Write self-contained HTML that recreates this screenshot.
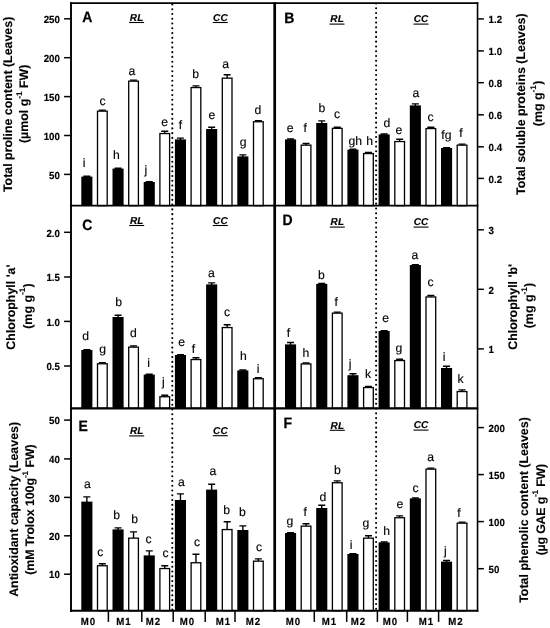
<!DOCTYPE html>
<html lang="en">
<head>
<meta charset="utf-8">
<title>Figure</title>
<style>
html,body{margin:0;padding:0;background:#fff;}
body{width:550px;height:628px;overflow:hidden;font-family:"Liberation Sans", sans-serif;}
svg{display:block;}
</style>
</head>
<body>
<svg width="550" height="628" viewBox="0 0 550 628" font-family='"Liberation Sans", sans-serif' text-rendering="geometricPrecision">
<rect width="550" height="628" fill="#fff"/>
<g id="panel-A">
<path d="M86.85 177.10V176.25M83.35 176.25H90.35" stroke="#000" stroke-width="1.4" fill="none"/>
<rect x="81.30" y="176.60" width="11.1" height="29.05" fill="#000"/>
<path d="M102.35 111.00V110.15M98.85 110.15H105.85" stroke="#000" stroke-width="1.4" fill="none"/>
<rect x="97.50" y="111.15" width="9.70" height="94.50" fill="#fff" stroke="#000" stroke-width="1.3"/>
<path d="M118.05 169.10V168.25M114.55 168.25H121.55" stroke="#000" stroke-width="1.4" fill="none"/>
<rect x="112.50" y="168.60" width="11.1" height="37.05" fill="#000"/>
<path d="M133.55 81.00V80.15M130.05 80.15H137.05" stroke="#000" stroke-width="1.4" fill="none"/>
<rect x="128.70" y="81.15" width="9.70" height="124.50" fill="#fff" stroke="#000" stroke-width="1.3"/>
<path d="M149.25 182.50V181.65M145.75 181.65H152.75" stroke="#000" stroke-width="1.4" fill="none"/>
<rect x="143.70" y="182.00" width="11.1" height="23.65" fill="#000"/>
<path d="M164.75 133.40V131.30M161.25 131.30H168.25" stroke="#000" stroke-width="1.4" fill="none"/>
<rect x="159.90" y="133.55" width="9.70" height="72.10" fill="#fff" stroke="#000" stroke-width="1.3"/>
<path d="M180.45 139.90V138.10M176.95 138.10H183.95" stroke="#000" stroke-width="1.4" fill="none"/>
<rect x="174.90" y="139.40" width="11.1" height="66.25" fill="#000"/>
<path d="M195.95 87.40V85.90M192.45 85.90H199.45" stroke="#000" stroke-width="1.4" fill="none"/>
<rect x="191.10" y="87.55" width="9.70" height="118.10" fill="#fff" stroke="#000" stroke-width="1.3"/>
<path d="M211.65 129.50V127.30M208.15 127.30H215.15" stroke="#000" stroke-width="1.4" fill="none"/>
<rect x="206.10" y="129.00" width="11.1" height="76.65" fill="#000"/>
<path d="M227.15 78.00V74.70M223.65 74.70H230.65" stroke="#000" stroke-width="1.4" fill="none"/>
<rect x="222.30" y="78.15" width="9.70" height="127.50" fill="#fff" stroke="#000" stroke-width="1.3"/>
<path d="M242.85 156.90V154.90M239.35 154.90H246.35" stroke="#000" stroke-width="1.4" fill="none"/>
<rect x="237.30" y="156.40" width="11.1" height="49.25" fill="#000"/>
<path d="M258.35 121.60V120.75M254.85 120.75H261.85" stroke="#000" stroke-width="1.4" fill="none"/>
<rect x="253.50" y="121.75" width="9.70" height="83.90" fill="#fff" stroke="#000" stroke-width="1.3"/>
</g>
<g id="panel-B">
<path d="M290.55 139.90V139.05M287.05 139.05H294.05" stroke="#000" stroke-width="1.4" fill="none"/>
<rect x="285.00" y="139.40" width="11.1" height="66.25" fill="#000"/>
<path d="M306.05 145.00V143.50M302.55 143.50H309.55" stroke="#000" stroke-width="1.4" fill="none"/>
<rect x="301.20" y="145.15" width="9.70" height="60.50" fill="#fff" stroke="#000" stroke-width="1.3"/>
<path d="M321.75 123.50V120.90M318.25 120.90H325.25" stroke="#000" stroke-width="1.4" fill="none"/>
<rect x="316.20" y="123.00" width="11.1" height="82.65" fill="#000"/>
<path d="M337.25 128.20V127.30M333.75 127.30H340.75" stroke="#000" stroke-width="1.4" fill="none"/>
<rect x="332.40" y="128.35" width="9.70" height="77.30" fill="#fff" stroke="#000" stroke-width="1.3"/>
<path d="M352.95 150.10V149.25M349.45 149.25H356.45" stroke="#000" stroke-width="1.4" fill="none"/>
<rect x="347.40" y="149.60" width="11.1" height="56.05" fill="#000"/>
<path d="M368.45 153.40V152.55M364.95 152.55H371.95" stroke="#000" stroke-width="1.4" fill="none"/>
<rect x="363.60" y="153.55" width="9.70" height="52.10" fill="#fff" stroke="#000" stroke-width="1.3"/>
<path d="M384.15 134.90V134.05M380.65 134.05H387.65" stroke="#000" stroke-width="1.4" fill="none"/>
<rect x="378.60" y="134.40" width="11.1" height="71.25" fill="#000"/>
<path d="M399.65 141.40V139.30M396.15 139.30H403.15" stroke="#000" stroke-width="1.4" fill="none"/>
<rect x="394.80" y="141.55" width="9.70" height="64.10" fill="#fff" stroke="#000" stroke-width="1.3"/>
<path d="M415.35 105.90V103.90M411.85 103.90H418.85" stroke="#000" stroke-width="1.4" fill="none"/>
<rect x="409.80" y="105.40" width="11.1" height="100.25" fill="#000"/>
<path d="M430.85 128.40V127.30M427.35 127.30H434.35" stroke="#000" stroke-width="1.4" fill="none"/>
<rect x="426.00" y="128.55" width="9.70" height="77.10" fill="#fff" stroke="#000" stroke-width="1.3"/>
<path d="M446.55 148.50V147.65M443.05 147.65H450.05" stroke="#000" stroke-width="1.4" fill="none"/>
<rect x="441.00" y="148.00" width="11.1" height="57.65" fill="#000"/>
<path d="M462.05 145.00V144.15M458.55 144.15H465.55" stroke="#000" stroke-width="1.4" fill="none"/>
<rect x="457.20" y="145.15" width="9.70" height="60.50" fill="#fff" stroke="#000" stroke-width="1.3"/>
</g>
<g id="panel-C">
<path d="M86.85 350.50V349.65M83.35 349.65H90.35" stroke="#000" stroke-width="1.4" fill="none"/>
<rect x="81.30" y="350.00" width="11.1" height="58.30" fill="#000"/>
<path d="M102.35 363.60V362.70M98.85 362.70H105.85" stroke="#000" stroke-width="1.4" fill="none"/>
<rect x="97.50" y="363.75" width="9.70" height="44.55" fill="#fff" stroke="#000" stroke-width="1.3"/>
<path d="M118.05 317.50V315.30M114.55 315.30H121.55" stroke="#000" stroke-width="1.4" fill="none"/>
<rect x="112.50" y="317.00" width="11.1" height="91.30" fill="#000"/>
<path d="M133.55 347.00V345.90M130.05 345.90H137.05" stroke="#000" stroke-width="1.4" fill="none"/>
<rect x="128.70" y="347.15" width="9.70" height="61.15" fill="#fff" stroke="#000" stroke-width="1.3"/>
<path d="M149.25 375.10V374.25M145.75 374.25H152.75" stroke="#000" stroke-width="1.4" fill="none"/>
<rect x="143.70" y="374.60" width="11.1" height="33.70" fill="#000"/>
<path d="M164.75 396.60V395.30M161.25 395.30H168.25" stroke="#000" stroke-width="1.4" fill="none"/>
<rect x="159.90" y="396.75" width="9.70" height="11.55" fill="#fff" stroke="#000" stroke-width="1.3"/>
<path d="M180.45 355.50V354.65M176.95 354.65H183.95" stroke="#000" stroke-width="1.4" fill="none"/>
<rect x="174.90" y="355.00" width="11.1" height="53.30" fill="#000"/>
<path d="M195.95 359.40V357.70M192.45 357.70H199.45" stroke="#000" stroke-width="1.4" fill="none"/>
<rect x="191.10" y="359.55" width="9.70" height="48.75" fill="#fff" stroke="#000" stroke-width="1.3"/>
<path d="M211.65 284.90V282.90M208.15 282.90H215.15" stroke="#000" stroke-width="1.4" fill="none"/>
<rect x="206.10" y="284.40" width="11.1" height="123.90" fill="#000"/>
<path d="M227.15 327.40V324.70M223.65 324.70H230.65" stroke="#000" stroke-width="1.4" fill="none"/>
<rect x="222.30" y="327.55" width="9.70" height="80.75" fill="#fff" stroke="#000" stroke-width="1.3"/>
<path d="M242.85 370.90V370.05M239.35 370.05H246.35" stroke="#000" stroke-width="1.4" fill="none"/>
<rect x="237.30" y="370.40" width="11.1" height="37.90" fill="#000"/>
<path d="M258.35 378.60V377.75M254.85 377.75H261.85" stroke="#000" stroke-width="1.4" fill="none"/>
<rect x="253.50" y="378.75" width="9.70" height="29.55" fill="#fff" stroke="#000" stroke-width="1.3"/>
</g>
<g id="panel-D">
<path d="M290.55 344.90V342.50M287.05 342.50H294.05" stroke="#000" stroke-width="1.4" fill="none"/>
<rect x="285.00" y="344.40" width="11.1" height="63.90" fill="#000"/>
<path d="M306.05 363.80V362.95M302.55 362.95H309.55" stroke="#000" stroke-width="1.4" fill="none"/>
<rect x="301.20" y="363.95" width="9.70" height="44.35" fill="#fff" stroke="#000" stroke-width="1.3"/>
<path d="M321.75 284.40V283.55M318.25 283.55H325.25" stroke="#000" stroke-width="1.4" fill="none"/>
<rect x="316.20" y="283.90" width="11.1" height="124.40" fill="#000"/>
<path d="M337.25 313.00V312.15M333.75 312.15H340.75" stroke="#000" stroke-width="1.4" fill="none"/>
<rect x="332.40" y="313.15" width="9.70" height="95.15" fill="#fff" stroke="#000" stroke-width="1.3"/>
<path d="M352.95 375.70V373.70M349.45 373.70H356.45" stroke="#000" stroke-width="1.4" fill="none"/>
<rect x="347.40" y="375.20" width="11.1" height="33.10" fill="#000"/>
<path d="M368.45 387.40V386.55M364.95 386.55H371.95" stroke="#000" stroke-width="1.4" fill="none"/>
<rect x="363.60" y="387.55" width="9.70" height="20.75" fill="#fff" stroke="#000" stroke-width="1.3"/>
<path d="M384.15 331.50V330.65M380.65 330.65H387.65" stroke="#000" stroke-width="1.4" fill="none"/>
<rect x="378.60" y="331.00" width="11.1" height="77.30" fill="#000"/>
<path d="M399.65 360.40V359.30M396.15 359.30H403.15" stroke="#000" stroke-width="1.4" fill="none"/>
<rect x="394.80" y="360.55" width="9.70" height="47.75" fill="#fff" stroke="#000" stroke-width="1.3"/>
<path d="M415.35 265.50V264.65M411.85 264.65H418.85" stroke="#000" stroke-width="1.4" fill="none"/>
<rect x="409.80" y="265.00" width="11.1" height="143.30" fill="#000"/>
<path d="M430.85 296.80V295.50M427.35 295.50H434.35" stroke="#000" stroke-width="1.4" fill="none"/>
<rect x="426.00" y="296.95" width="9.70" height="111.35" fill="#fff" stroke="#000" stroke-width="1.3"/>
<path d="M446.55 368.50V366.30M443.05 366.30H450.05" stroke="#000" stroke-width="1.4" fill="none"/>
<rect x="441.00" y="368.00" width="11.1" height="40.30" fill="#000"/>
<path d="M462.05 391.40V389.90M458.55 389.90H465.55" stroke="#000" stroke-width="1.4" fill="none"/>
<rect x="457.20" y="391.55" width="9.70" height="16.75" fill="#fff" stroke="#000" stroke-width="1.3"/>
</g>
<g id="panel-E">
<path d="M86.85 502.10V496.90M83.35 496.90H90.35" stroke="#000" stroke-width="1.4" fill="none"/>
<rect x="81.30" y="501.60" width="11.1" height="109.10" fill="#000"/>
<path d="M102.35 565.60V563.70M98.85 563.70H105.85" stroke="#000" stroke-width="1.4" fill="none"/>
<rect x="97.50" y="565.75" width="9.70" height="44.95" fill="#fff" stroke="#000" stroke-width="1.3"/>
<path d="M118.05 529.90V527.90M114.55 527.90H121.55" stroke="#000" stroke-width="1.4" fill="none"/>
<rect x="112.50" y="529.40" width="11.1" height="81.30" fill="#000"/>
<path d="M133.55 538.00V531.90M130.05 531.90H137.05" stroke="#000" stroke-width="1.4" fill="none"/>
<rect x="128.70" y="538.15" width="9.70" height="72.55" fill="#fff" stroke="#000" stroke-width="1.3"/>
<path d="M149.25 555.90V550.90M145.75 550.90H152.75" stroke="#000" stroke-width="1.4" fill="none"/>
<rect x="143.70" y="555.40" width="11.1" height="55.30" fill="#000"/>
<path d="M164.75 568.40V565.70M161.25 565.70H168.25" stroke="#000" stroke-width="1.4" fill="none"/>
<rect x="159.90" y="568.55" width="9.70" height="42.15" fill="#fff" stroke="#000" stroke-width="1.3"/>
<path d="M180.45 500.50V493.90M176.95 493.90H183.95" stroke="#000" stroke-width="1.4" fill="none"/>
<rect x="174.90" y="500.00" width="11.1" height="110.70" fill="#000"/>
<path d="M195.95 562.60V554.30M192.45 554.30H199.45" stroke="#000" stroke-width="1.4" fill="none"/>
<rect x="191.10" y="562.75" width="9.70" height="47.95" fill="#fff" stroke="#000" stroke-width="1.3"/>
<path d="M211.65 490.10V484.30M208.15 484.30H215.15" stroke="#000" stroke-width="1.4" fill="none"/>
<rect x="206.10" y="489.60" width="11.1" height="121.10" fill="#000"/>
<path d="M227.15 529.40V521.70M223.65 521.70H230.65" stroke="#000" stroke-width="1.4" fill="none"/>
<rect x="222.30" y="529.55" width="9.70" height="81.15" fill="#fff" stroke="#000" stroke-width="1.3"/>
<path d="M242.85 530.50V525.90M239.35 525.90H246.35" stroke="#000" stroke-width="1.4" fill="none"/>
<rect x="237.30" y="530.00" width="11.1" height="80.70" fill="#000"/>
<path d="M258.35 561.00V558.90M254.85 558.90H261.85" stroke="#000" stroke-width="1.4" fill="none"/>
<rect x="253.50" y="561.15" width="9.70" height="49.55" fill="#fff" stroke="#000" stroke-width="1.3"/>
</g>
<g id="panel-F">
<path d="M290.55 533.50V532.65M287.05 532.65H294.05" stroke="#000" stroke-width="1.4" fill="none"/>
<rect x="285.00" y="533.00" width="11.1" height="77.70" fill="#000"/>
<path d="M306.05 526.00V523.70M302.55 523.70H309.55" stroke="#000" stroke-width="1.4" fill="none"/>
<rect x="301.20" y="526.15" width="9.70" height="84.55" fill="#fff" stroke="#000" stroke-width="1.3"/>
<path d="M321.75 508.50V505.30M318.25 505.30H325.25" stroke="#000" stroke-width="1.4" fill="none"/>
<rect x="316.20" y="508.00" width="11.1" height="102.70" fill="#000"/>
<path d="M337.25 482.60V480.90M333.75 480.90H340.75" stroke="#000" stroke-width="1.4" fill="none"/>
<rect x="332.40" y="482.75" width="9.70" height="127.95" fill="#fff" stroke="#000" stroke-width="1.3"/>
<path d="M352.95 554.50V553.65M349.45 553.65H356.45" stroke="#000" stroke-width="1.4" fill="none"/>
<rect x="347.40" y="554.00" width="11.1" height="56.70" fill="#000"/>
<path d="M368.45 538.00V535.70M364.95 535.70H371.95" stroke="#000" stroke-width="1.4" fill="none"/>
<rect x="363.60" y="538.15" width="9.70" height="72.55" fill="#fff" stroke="#000" stroke-width="1.3"/>
<path d="M384.15 542.90V542.05M380.65 542.05H387.65" stroke="#000" stroke-width="1.4" fill="none"/>
<rect x="378.60" y="542.40" width="11.1" height="68.30" fill="#000"/>
<path d="M399.65 517.60V515.90M396.15 515.90H403.15" stroke="#000" stroke-width="1.4" fill="none"/>
<rect x="394.80" y="517.75" width="9.70" height="92.95" fill="#fff" stroke="#000" stroke-width="1.3"/>
<path d="M415.35 498.90V498.05M411.85 498.05H418.85" stroke="#000" stroke-width="1.4" fill="none"/>
<rect x="409.80" y="498.40" width="11.1" height="112.30" fill="#000"/>
<path d="M430.85 469.00V468.15M427.35 468.15H434.35" stroke="#000" stroke-width="1.4" fill="none"/>
<rect x="426.00" y="469.15" width="9.70" height="141.55" fill="#fff" stroke="#000" stroke-width="1.3"/>
<path d="M446.55 562.10V560.50M443.05 560.50H450.05" stroke="#000" stroke-width="1.4" fill="none"/>
<rect x="441.00" y="561.60" width="11.1" height="49.10" fill="#000"/>
<path d="M462.05 523.00V522.15M458.55 522.15H465.55" stroke="#000" stroke-width="1.4" fill="none"/>
<rect x="457.20" y="523.15" width="9.70" height="87.55" fill="#fff" stroke="#000" stroke-width="1.3"/>
</g>
<line x1="172.3" y1="4.5" x2="172.3" y2="610.7" stroke="#000" stroke-width="2.1" stroke-linecap="round" stroke-dasharray="0 4.765"/>
<line x1="376.1" y1="3.54" x2="376.1" y2="610.7" stroke="#000" stroke-width="2.1" stroke-linecap="round" stroke-dasharray="0 4.765"/>
<line x1="71.0" y1="2.3" x2="71.0" y2="611.6500000000001" stroke="#000" stroke-width="1.9"/>
<line x1="274.7" y1="2.3" x2="274.7" y2="611.6500000000001" stroke="#000" stroke-width="2.7"/>
<line x1="477.55" y1="2.3" x2="477.55" y2="611.6500000000001" stroke="#000" stroke-width="1.6"/>
<line x1="70.05" y1="3.1" x2="478.35" y2="3.1" stroke="#000" stroke-width="1.6"/>
<line x1="70.05" y1="205.65" x2="478.35" y2="205.65" stroke="#000" stroke-width="1.7"/>
<line x1="70.05" y1="408.3" x2="478.35" y2="408.3" stroke="#000" stroke-width="2.2"/>
<line x1="70.05" y1="610.7" x2="478.35" y2="610.7" stroke="#000" stroke-width="1.9"/>
<g font-size="9.7" font-weight="bold" fill="#000" stroke="#000" stroke-width="0.15">
<line x1="64.1" y1="18.8" x2="71.0" y2="18.8" stroke="#000" stroke-width="1.5"/>
<text transform="translate(59.90 23.05) scale(1 1.06)" text-anchor="end">250</text>
<line x1="64.1" y1="57.7" x2="71.0" y2="57.7" stroke="#000" stroke-width="1.5"/>
<text transform="translate(59.90 61.95) scale(1 1.06)" text-anchor="end">200</text>
<line x1="64.1" y1="96.6" x2="71.0" y2="96.6" stroke="#000" stroke-width="1.5"/>
<text transform="translate(59.90 100.85) scale(1 1.06)" text-anchor="end">150</text>
<line x1="64.1" y1="135.5" x2="71.0" y2="135.5" stroke="#000" stroke-width="1.5"/>
<text transform="translate(59.90 139.75) scale(1 1.06)" text-anchor="end">100</text>
<line x1="64.1" y1="174.4" x2="71.0" y2="174.4" stroke="#000" stroke-width="1.5"/>
<text transform="translate(59.90 178.65) scale(1 1.06)" text-anchor="end">50</text>
<line x1="64.1" y1="232.3" x2="71.0" y2="232.3" stroke="#000" stroke-width="1.5"/>
<text transform="translate(59.90 236.55) scale(1 1.06)" text-anchor="end">2.0</text>
<line x1="64.1" y1="277.0" x2="71.0" y2="277.0" stroke="#000" stroke-width="1.5"/>
<text transform="translate(59.90 281.25) scale(1 1.06)" text-anchor="end">1.5</text>
<line x1="64.1" y1="321.4" x2="71.0" y2="321.4" stroke="#000" stroke-width="1.5"/>
<text transform="translate(59.90 325.65) scale(1 1.06)" text-anchor="end">1.0</text>
<line x1="64.1" y1="366.0" x2="71.0" y2="366.0" stroke="#000" stroke-width="1.5"/>
<text transform="translate(59.90 370.25) scale(1 1.06)" text-anchor="end">0.5</text>
<line x1="64.1" y1="420.1" x2="71.0" y2="420.1" stroke="#000" stroke-width="1.5"/>
<text transform="translate(59.90 424.35) scale(1 1.06)" text-anchor="end">50</text>
<line x1="64.1" y1="458.9" x2="71.0" y2="458.9" stroke="#000" stroke-width="1.5"/>
<text transform="translate(59.90 463.15) scale(1 1.06)" text-anchor="end">40</text>
<line x1="64.1" y1="497.4" x2="71.0" y2="497.4" stroke="#000" stroke-width="1.5"/>
<text transform="translate(59.90 501.65) scale(1 1.06)" text-anchor="end">30</text>
<line x1="64.1" y1="535.8" x2="71.0" y2="535.8" stroke="#000" stroke-width="1.5"/>
<text transform="translate(59.90 540.05) scale(1 1.06)" text-anchor="end">20</text>
<line x1="64.1" y1="574.2" x2="71.0" y2="574.2" stroke="#000" stroke-width="1.5"/>
<text transform="translate(59.90 578.45) scale(1 1.06)" text-anchor="end">10</text>
<line x1="477.55" y1="18.9" x2="483.85" y2="18.9" stroke="#000" stroke-width="1.5"/>
<text transform="translate(488.60 23.15) scale(1 1.06)">1.2</text>
<line x1="477.55" y1="50.9" x2="483.85" y2="50.9" stroke="#000" stroke-width="1.5"/>
<text transform="translate(488.60 55.15) scale(1 1.06)">1.0</text>
<line x1="477.55" y1="82.7" x2="483.85" y2="82.7" stroke="#000" stroke-width="1.5"/>
<text transform="translate(488.60 86.95) scale(1 1.06)">0.8</text>
<line x1="477.55" y1="114.8" x2="483.85" y2="114.8" stroke="#000" stroke-width="1.5"/>
<text transform="translate(488.60 119.05) scale(1 1.06)">0.6</text>
<line x1="477.55" y1="146.8" x2="483.85" y2="146.8" stroke="#000" stroke-width="1.5"/>
<text transform="translate(488.60 151.05) scale(1 1.06)">0.4</text>
<line x1="477.55" y1="178.4" x2="483.85" y2="178.4" stroke="#000" stroke-width="1.5"/>
<text transform="translate(488.60 182.65) scale(1 1.06)">0.2</text>
<line x1="477.55" y1="229.8" x2="483.85" y2="229.8" stroke="#000" stroke-width="1.5"/>
<text transform="translate(488.60 234.05) scale(1 1.06)">3</text>
<line x1="477.55" y1="289.3" x2="483.85" y2="289.3" stroke="#000" stroke-width="1.5"/>
<text transform="translate(488.60 293.55) scale(1 1.06)">2</text>
<line x1="477.55" y1="348.9" x2="483.85" y2="348.9" stroke="#000" stroke-width="1.5"/>
<text transform="translate(488.60 353.15) scale(1 1.06)">1</text>
<line x1="477.55" y1="427.6" x2="483.85" y2="427.6" stroke="#000" stroke-width="1.5"/>
<text transform="translate(488.60 431.85) scale(1 1.06)">200</text>
<line x1="477.55" y1="474.6" x2="483.85" y2="474.6" stroke="#000" stroke-width="1.5"/>
<text transform="translate(488.60 478.85) scale(1 1.06)">150</text>
<line x1="477.55" y1="521.6" x2="483.85" y2="521.6" stroke="#000" stroke-width="1.5"/>
<text transform="translate(488.60 525.85) scale(1 1.06)">100</text>
<line x1="477.55" y1="568.7" x2="483.85" y2="568.7" stroke="#000" stroke-width="1.5"/>
<text transform="translate(488.60 572.95) scale(1 1.06)">50</text>
</g>
<line x1="108.4" y1="610.7" x2="108.4" y2="621.9" stroke="#000" stroke-width="1.5"/>
<line x1="141.8" y1="610.7" x2="141.8" y2="621.9" stroke="#000" stroke-width="1.5"/>
<line x1="173.2" y1="610.7" x2="173.2" y2="621.9" stroke="#000" stroke-width="1.5"/>
<line x1="205.2" y1="610.7" x2="205.2" y2="621.9" stroke="#000" stroke-width="1.5"/>
<line x1="235.0" y1="610.7" x2="235.0" y2="621.9" stroke="#000" stroke-width="1.5"/>
<line x1="314.3" y1="610.7" x2="314.3" y2="621.9" stroke="#000" stroke-width="1.5"/>
<line x1="346.7" y1="610.7" x2="346.7" y2="621.9" stroke="#000" stroke-width="1.5"/>
<line x1="377.4" y1="610.7" x2="377.4" y2="621.9" stroke="#000" stroke-width="1.5"/>
<line x1="407.4" y1="610.7" x2="407.4" y2="621.9" stroke="#000" stroke-width="1.5"/>
<line x1="438.6" y1="610.7" x2="438.6" y2="621.9" stroke="#000" stroke-width="1.5"/>
<g font-size="9.7" font-weight="bold" fill="#000" letter-spacing="1.0" stroke="#000" stroke-width="0.15">
<text transform="translate(80.70 624.90) scale(1 1.06)">M0</text>
<text transform="translate(116.30 624.90) scale(1 1.06)">M1</text>
<text transform="translate(145.70 624.90) scale(1 1.06)">M2</text>
<text transform="translate(179.70 624.90) scale(1 1.06)">M0</text>
<text transform="translate(215.70 624.90) scale(1 1.06)">M1</text>
<text transform="translate(245.70 624.90) scale(1 1.06)">M2</text>
<text transform="translate(285.70 624.90) scale(1 1.06)">M0</text>
<text transform="translate(321.70 624.90) scale(1 1.06)">M1</text>
<text transform="translate(350.70 624.90) scale(1 1.06)">M2</text>
<text transform="translate(382.70 624.90) scale(1 1.06)">M0</text>
<text transform="translate(418.70 624.90) scale(1 1.06)">M1</text>
<text transform="translate(448.30 624.90) scale(1 1.06)">M2</text>
</g>
<g font-size="14" font-weight="bold" fill="#000" stroke="#000" stroke-width="0.25">
<text transform="translate(82.30 22.40) scale(1 1.07)">A</text>
<text transform="translate(284.30 23.30) scale(1 1.07)">B</text>
<text transform="translate(82.20 229.60) scale(1 1.07)">C</text>
<text transform="translate(282.40 224.90) scale(1 1.07)">D</text>
<text transform="translate(78.60 430.50) scale(1 1.07)">E</text>
<text transform="translate(283.40 427.90) scale(1 1.07)">F</text>
</g>
<g font-size="10" font-weight="bold" font-style="italic" fill="#000" letter-spacing="0.25" stroke="#000" stroke-width="0.15">
<text transform="translate(136.70 20.80) scale(1 1.0)" text-anchor="middle">RL</text>
<line x1="129.1" y1="22.5" x2="144.1" y2="22.5" stroke="#000" stroke-width="1.1"/>
<text transform="translate(220.40 20.80) scale(1 1.0)" text-anchor="middle">CC</text>
<line x1="212.8" y1="22.5" x2="227.8" y2="22.5" stroke="#000" stroke-width="1.1"/>
<text transform="translate(337.10 22.40) scale(1 1.0)" text-anchor="middle">RL</text>
<line x1="329.5" y1="24.1" x2="344.5" y2="24.1" stroke="#000" stroke-width="1.1"/>
<text transform="translate(421.10 22.40) scale(1 1.0)" text-anchor="middle">CC</text>
<line x1="413.5" y1="24.1" x2="428.5" y2="24.1" stroke="#000" stroke-width="1.1"/>
<text transform="translate(136.80 223.80) scale(1 1.0)" text-anchor="middle">RL</text>
<line x1="129.2" y1="225.5" x2="144.2" y2="225.5" stroke="#000" stroke-width="1.1"/>
<text transform="translate(220.40 223.80) scale(1 1.0)" text-anchor="middle">CC</text>
<line x1="212.8" y1="225.5" x2="227.8" y2="225.5" stroke="#000" stroke-width="1.1"/>
<text transform="translate(337.40 225.40) scale(1 1.0)" text-anchor="middle">RL</text>
<line x1="329.8" y1="227.1" x2="344.8" y2="227.1" stroke="#000" stroke-width="1.1"/>
<text transform="translate(421.10 225.40) scale(1 1.0)" text-anchor="middle">CC</text>
<line x1="413.5" y1="227.1" x2="428.5" y2="227.1" stroke="#000" stroke-width="1.1"/>
<text transform="translate(136.80 434.20) scale(1 1.0)" text-anchor="middle">RL</text>
<line x1="129.2" y1="435.9" x2="144.2" y2="435.9" stroke="#000" stroke-width="1.1"/>
<text transform="translate(220.40 434.00) scale(1 1.0)" text-anchor="middle">CC</text>
<line x1="212.8" y1="435.7" x2="227.8" y2="435.7" stroke="#000" stroke-width="1.1"/>
<text transform="translate(337.40 428.60) scale(1 1.0)" text-anchor="middle">RL</text>
<line x1="329.8" y1="430.3" x2="344.8" y2="430.3" stroke="#000" stroke-width="1.1"/>
<text transform="translate(421.10 428.40) scale(1 1.0)" text-anchor="middle">CC</text>
<line x1="413.5" y1="430.1" x2="428.5" y2="430.1" stroke="#000" stroke-width="1.1"/>
</g>
<g font-size="12.2" fill="#000" text-anchor="middle" stroke="#000" stroke-width="0.15">
<text x="84.2" y="167.0">i</text>
<text x="102.6" y="105.0">c</text>
<text x="116.4" y="159.0">h</text>
<text x="132.0" y="74.6">a</text>
<text x="145.9" y="173.6">j</text>
<text x="164.6" y="126.4">e</text>
<text x="180.5" y="129.4">f</text>
<text x="195.6" y="78.0">b</text>
<text x="212.0" y="118.5">e</text>
<text x="225.6" y="68.0">a</text>
<text x="243.2" y="146.4">g</text>
<text x="258.0" y="113.6">d</text>
<text x="290.2" y="132.4">e</text>
<text x="305.1" y="132.4">f</text>
<text x="322.0" y="112.4">b</text>
<text x="337.0" y="117.6">c</text>
<text x="355.2" y="145.0">gh</text>
<text x="369.6" y="145.0">h</text>
<text x="387.0" y="126.6">d</text>
<text x="399.0" y="133.6">e</text>
<text x="416.0" y="97.2">a</text>
<text x="430.6" y="121.4">c</text>
<text x="446.4" y="139.4">fg</text>
<text x="460.9" y="137.4">f</text>
<text x="85.6" y="339.6">d</text>
<text x="102.6" y="353.0">g</text>
<text x="118.6" y="306.4">b</text>
<text x="133.4" y="336.6">d</text>
<text x="148.6" y="367.0">i</text>
<text x="163.3" y="386.0">j</text>
<text x="181.6" y="346.0">e</text>
<text x="193.5" y="353.0">f</text>
<text x="211.4" y="276.6">a</text>
<text x="227.0" y="316.0">c</text>
<text x="243.4" y="360.4">h</text>
<text x="258.0" y="372.6">i</text>
<text x="288.4" y="337.4">f</text>
<text x="306.0" y="357.0">h</text>
<text x="321.3" y="278.5">b</text>
<text x="336.1" y="305.8">f</text>
<text x="350.1" y="367.6">j</text>
<text x="368.0" y="378.0">k</text>
<text x="385.6" y="322.0">e</text>
<text x="399.0" y="352.0">g</text>
<text x="415.0" y="258.6">a</text>
<text x="430.6" y="286.0">c</text>
<text x="444.0" y="360.6">i</text>
<text x="460.6" y="383.0">k</text>
<text x="87.3" y="487.7">a</text>
<text x="100.4" y="555.6">c</text>
<text x="116.6" y="519.4">b</text>
<text x="134.6" y="523.0">b</text>
<text x="148.6" y="542.6">c</text>
<text x="165.6" y="556.6">c</text>
<text x="181.4" y="485.6">a</text>
<text x="197.0" y="545.6">c</text>
<text x="213.0" y="475.4">a</text>
<text x="226.6" y="513.6">b</text>
<text x="242.4" y="516.4">b</text>
<text x="259.0" y="551.0">c</text>
<text x="290.0" y="525.4">g</text>
<text x="305.1" y="515.6">f</text>
<text x="323.0" y="500.6">d</text>
<text x="337.4" y="474.4">b</text>
<text x="351.0" y="548.6">i</text>
<text x="366.0" y="527.0">g</text>
<text x="386.6" y="534.6">h</text>
<text x="400.0" y="508.0">e</text>
<text x="415.6" y="492.4">c</text>
<text x="430.6" y="461.0">a</text>
<text x="445.3" y="554.6">j</text>
<text x="458.9" y="516.6">f</text>
</g>
<text transform="translate(12.1 104.4) rotate(-90) scale(1.0 1)" text-anchor="middle" font-size="12.4" font-weight="bold" letter-spacing="0" fill="#000" stroke="#000" stroke-width="0.1" xml:space="preserve">Total proline content (Leaves)</text>
<text transform="translate(28.3 103.8) rotate(-90) scale(1.0 1)" text-anchor="middle" font-size="12.4" font-weight="bold" letter-spacing="0" fill="#000" stroke="#000" stroke-width="0.1" xml:space="preserve">(µmol g<tspan dy="-6.5" font-size="8.2">-1</tspan><tspan dy="6.5"> </tspan>FW)</text>
<text transform="translate(14.9 307.1) rotate(-90) scale(1.0 1)" text-anchor="middle" font-size="12.4" font-weight="bold" letter-spacing="0" fill="#000" stroke="#000" stroke-width="0.1" xml:space="preserve">Chlorophyll 'a'</text>
<text transform="translate(31.6 306.0) rotate(-90) scale(1.0 1)" text-anchor="middle" font-size="12.4" font-weight="bold" letter-spacing="0" fill="#000" stroke="#000" stroke-width="0.1" xml:space="preserve">(mg g<tspan dy="-6.5" font-size="8.2">-1</tspan><tspan dy="6.5" dx="0.4">)</tspan></text>
<text transform="translate(17.7 509.4) rotate(-90) scale(1.0 1)" text-anchor="middle" font-size="12.4" font-weight="bold" letter-spacing="0" fill="#000" stroke="#000" stroke-width="0.1" xml:space="preserve">Antioxidant capacity (Leaves)</text>
<text transform="translate(34.0 509.6) rotate(-90) scale(1.0 1)" text-anchor="middle" font-size="12.4" font-weight="bold" letter-spacing="-0.07" fill="#000" stroke="#000" stroke-width="0.1" xml:space="preserve">(mM Trolox 100g<tspan dy="-6.5" font-size="8.2">-1</tspan><tspan dy="6.5"> </tspan>FW)</text>
<text transform="translate(525.3 104.2) rotate(-90) scale(1.0 1)" text-anchor="middle" font-size="12.4" font-weight="bold" letter-spacing="0" fill="#000" stroke="#000" stroke-width="0.1" xml:space="preserve">Total soluble proteins (Leaves)</text>
<text transform="translate(542.0 103.4) rotate(-90) scale(1.0 1)" text-anchor="middle" font-size="12.4" font-weight="bold" letter-spacing="0" fill="#000" stroke="#000" stroke-width="0.1" xml:space="preserve">(mg g<tspan dy="-6.5" font-size="8.2">-1</tspan><tspan dy="6.5" dx="0.4">)</tspan></text>
<text transform="translate(517.1 306.9) rotate(-90) scale(1.0 1)" text-anchor="middle" font-size="12.4" font-weight="bold" letter-spacing="0" fill="#000" stroke="#000" stroke-width="0.1" xml:space="preserve">Chlorophyll 'b'</text>
<text transform="translate(533.2 305.5) rotate(-90) scale(1.0 1)" text-anchor="middle" font-size="12.4" font-weight="bold" letter-spacing="0" fill="#000" stroke="#000" stroke-width="0.1" xml:space="preserve">(mg g<tspan dy="-6.5" font-size="8.2">-1</tspan><tspan dy="6.5" dx="0.4">)</tspan></text>
<text transform="translate(528.0 510.0) rotate(-90) scale(1.0 1)" text-anchor="middle" font-size="12.4" font-weight="bold" letter-spacing="0.02" fill="#000" stroke="#000" stroke-width="0.1" xml:space="preserve">Total phenolic content (Leaves)</text>
<text transform="translate(544.6 509.7) rotate(-90) scale(1.0 1)" text-anchor="middle" font-size="12.4" font-weight="bold" letter-spacing="-0.2" fill="#000" stroke="#000" stroke-width="0.1" xml:space="preserve">(µg GAE g<tspan dy="-6.5" font-size="8.2">-1</tspan><tspan dy="6.5"> </tspan>FW)</text>
</svg>
</body>
</html>
